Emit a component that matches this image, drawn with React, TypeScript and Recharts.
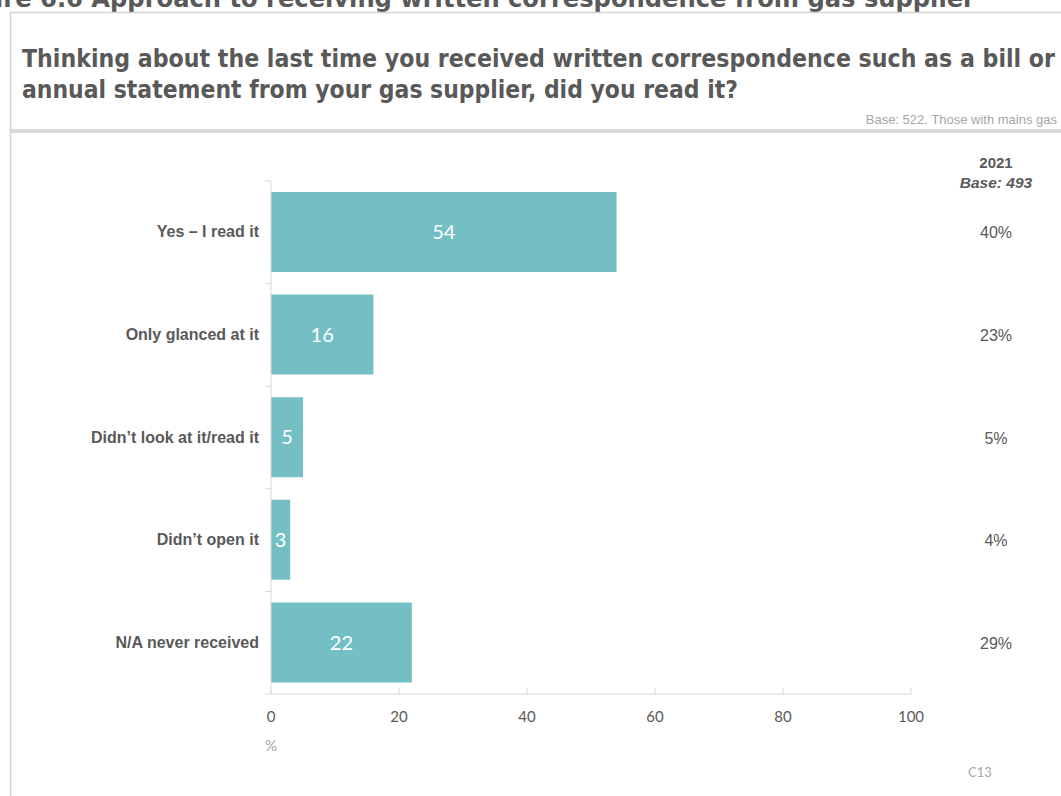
import React from 'react'
import { BarChart, Bar, XAxis, YAxis, LabelList } from 'recharts'

const categories = [
  'Yes – I read it',
  'Only glanced at it',
  'Didn’t look at it/read it',
  'Didn’t open it',
  'N/A never received',
]
const values2023 = [54, 16, 5, 3, 22]
const values2021 = ['40%', '23%', '5%', '4%', '29%']
const xTicks = [0, 20, 40, 60, 80, 100]

const data = categories.map((name, i) => ({ name, value: values2023[i] }))

const grey = '#595959'
const light = '#a6a6a6'
const axisGrey = '#d9d9d9'
const barColor = '#73bfc4'
const LEFT_MARGIN = 12

// category label plus the small tick marks on the band edges
const LeftTick = (props: any) => {
  const { x, y, payload } = props
  const axisX = x + LEFT_MARGIN
  const half = payload.offset || 0
  const last = payload.index === categories.length - 1
  return (
    <g>
      {half > 0 && (
        <line x1={axisX - 6} x2={axisX} y1={y - half} y2={y - half} stroke={axisGrey} />
      )}
      {half > 0 && last && (
        <line x1={axisX - 6} x2={axisX} y1={y + half} y2={y + half} stroke={axisGrey} />
      )}
      <text
        x={x}
        y={y}
        dy={5}
        textAnchor="end"
        fontFamily="'Liberation Sans', Arial, sans-serif"
        fontWeight="bold"
        fontSize={16}
        fill={grey}
      >
        {payload.value}
      </text>
    </g>
  )
}

const RightTick = (props: any) => {
  const { y, payload } = props
  return (
    <text
      x={996}
      y={y}
      dy={6}
      textAnchor="middle"
      fontFamily="'Liberation Sans', Arial, sans-serif"
      fontSize={16}
      fill={grey}
    >
      {values2021[payload.index]}
    </text>
  )
}

export default function App() {
  return (
    <div style={{ position: 'absolute', left: 0, top: 0, width: 1061, height: 796, background: '#fff', overflow: 'hidden' }}>
      <svg width={1061} height={796} style={{ position: 'absolute', left: 0, top: 0 }}>
        {/* cropped figure caption above the panel */}
        <text x={-56} y={7} textLength={1031} lengthAdjust="spacingAndGlyphs"
          fontFamily="'DejaVu Sans', sans-serif" fontWeight="bold" fontSize={24} fill={grey}>
          Figure 6.6 Approach to receiving written correspondence from gas supplier
        </text>
        {/* panel frame */}
        <rect x={10.5} y={12.5} width={1100} height={800} fill="#fff" stroke="#d4d4d4" strokeWidth={1.5} />
        <text x={22} y={67} textLength={1033} lengthAdjust="spacingAndGlyphs"
          fontFamily="'DejaVu Sans', sans-serif" fontWeight="bold" fontSize={25} fill={grey}>
          Thinking about the last time you received written correspondence such as a bill or
        </text>
        <text x={22} y={98} textLength={716} lengthAdjust="spacingAndGlyphs"
          fontFamily="'DejaVu Sans', sans-serif" fontWeight="bold" fontSize={25} fill={grey}>
          annual statement from your gas supplier, did you read it?
        </text>
        <text x={1057} y={124} textAnchor="end" fontFamily="'Liberation Sans Narrow', 'Liberation Sans', sans-serif"
          fontSize={13} fill={light}>
          Base: 522. Those with mains gas
        </text>
        <rect x={11} y={129} width={1061} height={4} fill={axisGrey} />
        <text x={996} y={168} textAnchor="middle" fontFamily="'Liberation Sans', Arial, sans-serif"
          fontWeight="bold" fontSize={15} fill={grey}>2021</text>
        <text x={996} y={188} textAnchor="middle" fontFamily="'Liberation Sans', Arial, sans-serif"
          fontWeight="bold" fontStyle="italic" fontSize={15.5} fill={grey}>Base: 493</text>
        <text x={271} y={751} textAnchor="middle" fontFamily="Lato, 'Open Sans', sans-serif"
          fontSize={15} fill={light}>%</text>
        <text x={980} y={777} textAnchor="middle" fontFamily="Lato, 'Open Sans', sans-serif"
          fontSize={13} fill={light}>C13</text>
      </svg>
      <div style={{ position: 'absolute', left: 0, top: 0 }}>
        <BarChart
          width={1061}
          height={796}
          data={data}
          layout="vertical"
          margin={{ top: 181, right: 10, bottom: 62, left: 11 }}
        >
          <XAxis
            type="number"
            domain={[0, 100]}
            ticks={xTicks}
            height={40}
            axisLine={{ stroke: axisGrey }}
            tickLine={{ stroke: axisGrey }}
            tickSize={-6}
            tickMargin={23}
            tick={{ fill: grey, fontSize: 15, fontFamily: "Lato, 'Open Sans', sans-serif" }}
          />
          <YAxis
            type="category"
            dataKey="name"
            width={260}
            axisLine={{ stroke: axisGrey }}
            tickLine={false}
            tickSize={0}
            tickMargin={LEFT_MARGIN}
            tick={<LeftTick />}
          />
          <YAxis
            yAxisId="right"
            orientation="right"
            type="category"
            dataKey="name"
            width={140}
            axisLine={false}
            tickLine={false}
            tick={<RightTick />}
          />
          <Bar dataKey="value" fill={barColor} barSize={80} isAnimationActive={false}>
            <LabelList
              dataKey="value"
              position="center"
              fill="#fff"
              fontSize={20}
              fontFamily="Lato, 'Open Sans', sans-serif"
            />
          </Bar>
        </BarChart>
      </div>
    </div>
  )
}
